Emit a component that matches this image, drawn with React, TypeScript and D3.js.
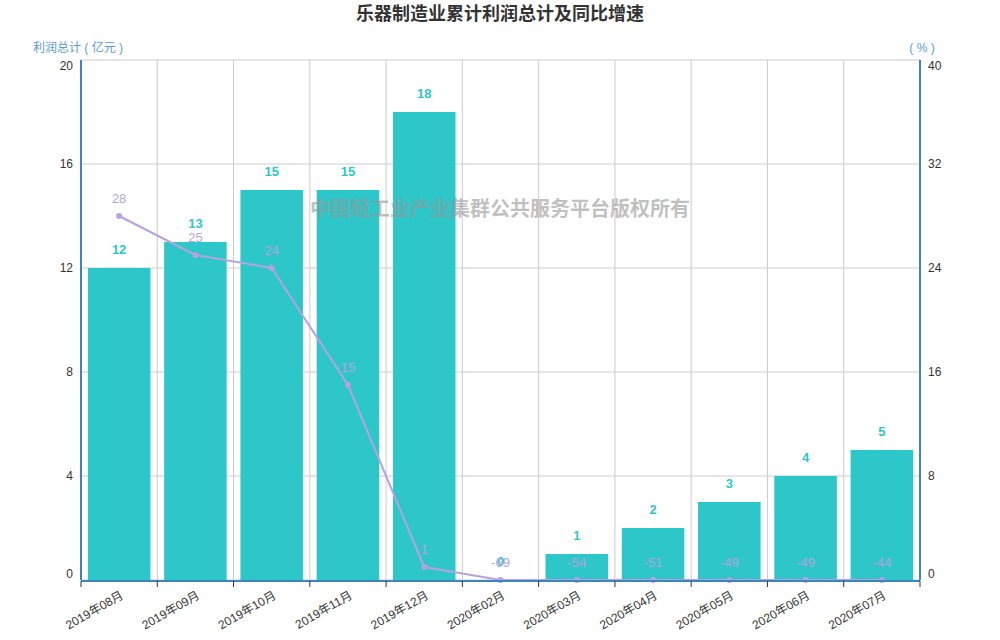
// @ts-nocheck
import React, { useEffect, useRef } from "react";
import * as d3 from "d3";

const months = [
  "2019年08月", "2019年09月", "2019年10月", "2019年11月", "2019年12月",
  "2020年02月", "2020年03月", "2020年04月", "2020年05月", "2020年06月", "2020年07月",
];
const profit = [12, 13, 15, 15, 18, 0, 1, 2, 3, 4, 5];
const growth = [28, 25, 24, 15, 1, -69, -54, -51, -49, -49, -44];
const leftTicks = [0, 4, 8, 12, 16, 20];
const rightTicks = [0, 8, 16, 24, 32, 40];

const FONT = "'Liberation Sans', 'Noto Sans CJK SC', sans-serif";
const BAR = "#2ec7c9";
const LINE = "#b6a2de";
const AXIS = "#3f84c0";

const App = () => {
  const svgRef = useRef();

  useEffect(() => {
    const W = 1000, H = 640;
    const margin = { top: 60, right: 80, bottom: 60, left: 81 };
    const width = W - margin.left - margin.right;
    const height = H - margin.top - margin.bottom;

    const root = d3.select(svgRef.current);
    root.selectAll("*").remove();
    root.attr("width", W).attr("height", H).style("font-family", FONT);

    // title
    root.append("text")
      .attr("x", W / 2).attr("y", 20)
      .attr("text-anchor", "middle")
      .style("font-size", "18px").style("font-weight", "bold")
      .style("fill", "#333")
      .text("乐器制造业累计利润总计及同比增速");

    const svg = root.append("g").attr("transform", `translate(${margin.left},${margin.top})`);

    const x = d3.scaleBand().domain(months).range([0, width]).paddingInner(0).paddingOuter(0);
    const y = d3.scaleLinear().domain([0, 20]).range([height, 0]);
    const y2 = d3.scaleLinear().domain([0, 40]).range([height, 0]).clamp(true);
    const bw = x.bandwidth();
    const barW = bw * 0.82;

    // grid
    svg.append("g").selectAll("line").data(leftTicks).enter().append("line")
      .attr("x1", 0).attr("x2", width)
      .attr("y1", (d) => y(d)).attr("y2", (d) => y(d))
      .style("stroke", "#ccc");
    svg.append("g").selectAll("line").data(months.slice(1)).enter().append("line")
      .attr("x1", (d) => x(d)).attr("x2", (d) => x(d))
      .attr("y1", 0).attr("y2", height)
      .style("stroke", "#ccc");

    // bars
    svg.append("g").selectAll("rect").data(profit).enter().append("rect")
      .attr("x", (d, i) => x(months[i]) + (bw - barW) / 2)
      .attr("y", (d) => y(d))
      .attr("width", barW)
      .attr("height", (d) => height - y(d))
      .style("fill", BAR);

    // watermark
    svg.append("text")
      .attr("x", W / 2 - margin.left).attr("y", 216 - margin.top)
      .attr("text-anchor", "middle")
      .style("font-size", "20px").style("font-weight", "bold")
      .style("fill", "rgba(150,150,150,0.6)")
      .text("中国轻工业产业集群公共服务平台版权所有");

    // line
    const cx = (i) => x(months[i]) + bw / 2;
    const line = d3.line().x((d, i) => cx(i)).y((d) => y2(d));
    svg.append("path").datum(growth)
      .attr("d", line)
      .style("fill", "none").style("stroke", LINE).style("stroke-width", 2);
    svg.append("g").selectAll("circle").data(growth).enter().append("circle")
      .attr("cx", (d, i) => cx(i)).attr("cy", (d) => y2(d)).attr("r", 3)
      .style("fill", LINE);

    // bar labels
    svg.append("g").selectAll("text").data(profit).enter().append("text")
      .attr("x", (d, i) => cx(i)).attr("y", (d) => y(d) - 14)
      .attr("text-anchor", "middle")
      .style("font-size", "13px").style("font-weight", "bold")
      .style("fill", BAR)
      .text((d) => d);

    // line labels
    svg.append("g").selectAll("text").data(growth).enter().append("text")
      .attr("x", (d, i) => cx(i)).attr("y", (d) => y2(d) - 13)
      .attr("text-anchor", "middle")
      .style("font-size", "13px")
      .style("fill", LINE)
      .text((d) => d);

    // axes
    const edge = (v, lo, hi) => (v === lo ? -6 : v === hi ? 6 : 0);
    svg.append("g").selectAll("text").data(leftTicks).enter().append("text")
      .attr("x", -8).attr("y", (d) => y(d) + edge(d, 0, 20))
      .attr("dy", "0.35em").attr("text-anchor", "end")
      .style("font-size", "12px").style("fill", "#333")
      .text((d) => d);
    svg.append("g").selectAll("text").data(rightTicks).enter().append("text")
      .attr("x", width + 8).attr("y", (d) => y2(d) + edge(d, 0, 40))
      .attr("dy", "0.35em").attr("text-anchor", "start")
      .style("font-size", "12px").style("fill", "#333")
      .text((d) => d);

    svg.append("line").attr("x1", 0).attr("x2", 0).attr("y1", 0).attr("y2", height)
      .style("stroke", AXIS).style("stroke-width", 2);
    svg.append("line").attr("x1", width).attr("x2", width).attr("y1", 0).attr("y2", height)
      .style("stroke", AXIS).style("stroke-width", 2);
    svg.append("line").attr("x1", 0).attr("x2", width).attr("y1", height + 1).attr("y2", height + 1)
      .style("stroke", AXIS).style("stroke-width", 2);

    // x ticks at band boundaries
    svg.append("g").selectAll("line").data([...months.map((m) => x(m)), width]).enter().append("line")
      .attr("x1", (d) => d).attr("x2", (d) => d)
      .attr("y1", height + 1).attr("y2", height + 7)
      .style("stroke", "#333");

    svg.append("g").selectAll("text").data(months).enter().append("text")
      .attr("transform", (d) => `translate(${x(d) + bw / 2 + 3},${height + 14}) rotate(-30)`)
      .attr("text-anchor", "end").attr("dy", "0.35em")
      .style("font-size", "12px").style("fill", "#333")
      .text((d) => d);

    // axis names
    root.append("text")
      .attr("x", margin.left - 3).attr("y", 52).attr("text-anchor", "middle")
      .style("font-size", "12px").style("fill", "#5b9bd0")
      .text("利润总计 ( 亿元 )");
    root.append("text")
      .attr("x", margin.left + width + 2).attr("y", 52).attr("text-anchor", "middle")
      .style("font-size", "12px").style("fill", "#5b9bd0")
      .text("( % )");
  }, []);

  return <svg ref={svgRef} style={{ position: "absolute", left: 0, top: 0 }}></svg>;
};

export default App;
